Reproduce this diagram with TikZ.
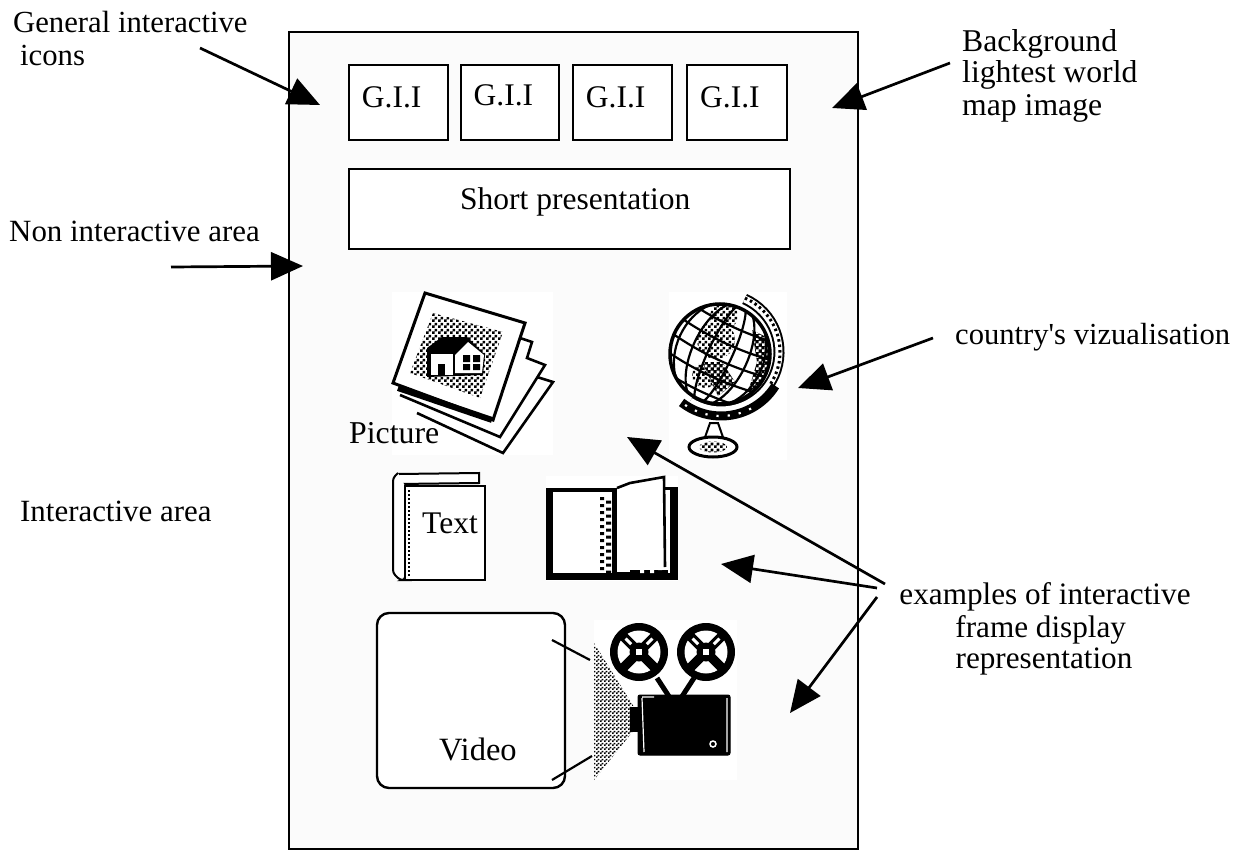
\documentclass[tikz,border=0pt]{standalone}
\usepackage{fontspec}
\setmainfont{Liberation Serif}
\newfontfamily\plainserif{Liberation Serif}
\usetikzlibrary{arrows.meta,patterns,calc}
\pgfdeclarepatternformonly{chk}{\pgfpointorigin}{\pgfqpoint{6pt}{6pt}}{\pgfqpoint{6pt}{6pt}}{%
 \pgfpathrectangle{\pgfpointorigin}{\pgfqpoint{3pt}{3pt}}%
 \pgfpathrectangle{\pgfqpoint{3pt}{3pt}}{\pgfqpoint{3pt}{3pt}}\pgfusepath{fill}}
\pgfdeclarepatternformonly{chkfine}{\pgfpointorigin}{\pgfqpoint{4pt}{4pt}}{\pgfqpoint{4pt}{4pt}}{%
 \pgfpathrectangle{\pgfpointorigin}{\pgfqpoint{2pt}{2pt}}%
 \pgfpathrectangle{\pgfqpoint{2pt}{2pt}}{\pgfqpoint{2pt}{2pt}}\pgfusepath{fill}}
\definecolor{panelgray}{HTML}{FBFBFB}
\tikzset{
 lbl/.style={anchor=base west,inner sep=0pt,font=\fontsize{#1}{36}\selectfont},
 lbl/.default=31.5,
 lblc/.style={anchor=base,inner sep=0pt,font=\fontsize{31.2}{36}\selectfont},
 box/.style={draw=black,line width=2.4pt,fill=white,anchor=north west,inner sep=0pt},
 ptr/.style={draw=black,line width=2.7pt,-{Triangle[length=32pt,width=28pt]},shorten >=0pt},
 ink/.style={draw=black,line width=3pt,line join=miter},
 thin ink/.style={draw=black,line width=2pt}
}
\newcommand{\reel}[2]{%
 \fill[black] (#1,#2) circle[radius=29];
 \fill[white] (#1,#2) circle[radius=21.5];
 \foreach \a in {45,135,225,315}{
  \draw[black,line width=9.5pt] (#1,#2) -- ++(\a:-24);
  \draw[white,line width=3pt] ($(#1,#2)+(\a:11)$) -- ($(#1,#2)+(\a:19)$);
 }
 \fill[black] (#1,#2) circle[radius=9.5];
 \fill[white] (#1-3,#2-3) rectangle (#1+3,#2+3);
}
\begin{document}
\begin{tikzpicture}[x=1pt,y=-1pt]
\useasboundingbox (0,0) rectangle (1249,850);
\fill[white] (0,0) rectangle (1249,850);
\draw[draw=black,line width=2.6pt,fill=panelgray] (289,32) rectangle (858,849);

% G.I.I boxes
\node[box,minimum width=99pt,minimum height=75pt] (g1) at (348,64) {};
\node[box,minimum width=98pt,minimum height=75pt] (g2) at (460,64) {};
\node[box,minimum width=99pt,minimum height=75pt] (g3) at (572,64) {};
\node[box,minimum width=100pt,minimum height=75pt] (g4) at (686,64) {};
\node[lbl] (tg1) at (361.7,108) {G.I.I};
\node[lbl] (tg2) at (473.5,106) {G.I.I};
\node[lbl] (tg3) at (585.7,108) {G.I.I};
\node[lbl] (tg4) at (700,108) {G.I.I};
\node[box,minimum width=441pt,minimum height=80pt] (sp) at (348,168) {};
\node[lbl] (tsp) at (460,210) {Short presentation};

% Picture icon
\fill[white] (392,292) rectangle (553,455);
\draw[ink,fill=white,line width=2.6pt] (537,377) -- (553,382) -- (503,453) -- (417,413);
\draw[ink,fill=white,line width=2.6pt] (520,338) -- (532,342) -- (527,358) -- (545,365) -- (500,437) -- (400,395);
\draw[ink,fill=white] (425,293) -- (525,323) -- (493,420) -- (393,383) -- cycle;
\draw[black,line width=6pt] (398,388) -- (492,420);
\fill[pattern=chk,pattern color=black] (433,313) -- (503,332) -- (480,398) -- (410,373) -- cycle;
\fill[black] (427,348) -- (442,337) -- (467,337) -- (485,355) -- (483,375) -- (427,377) -- cycle;
\fill[white] (431,354) rectangle (453,375);
\fill[black] (438,364) rectangle (445,375);
\fill[white] (455,355) -- (468,342) -- (484,355) -- (482,373) -- (455,373) -- cycle;
\fill[black] (463,355) rectangle (470,362) (473,355) rectangle (480,362) (463,364) rectangle (470,370) (473,364) rectangle (480,370);
\node[lbl=31.8] (tpic) at (349,443) {Picture};

% Globe icon
\fill[white] (669,292) rectangle (787,460);
\begin{scope}
 \fill[white] (720,354) circle[radius=50];
 \clip (720,354) circle[radius=50];
 \fill[pattern=chk,pattern color=black] (716,340) circle[radius=19] (705,375) circle[radius=13] (721,381) circle[radius=11] (724,316) circle[radius=14];
 \fill[black] (752,330) -- (772,340) -- (772,380) -- (748,392) -- (757,362) -- cycle;
 \fill[pattern=chk,pattern color=white] (752,330) -- (772,340) -- (772,380) -- (748,392) -- (757,362) -- cycle;
 \fill[black] (722,362) -- (735,382) -- (718,396) -- (702,362) -- cycle;
 \fill[pattern=chk,pattern color=white] (722,362) -- (735,382) -- (718,396) -- (702,362) -- cycle;
 \begin{scope}[rotate around={-25:(720,354)}]
  \foreach \rx in {12,28,44}{\draw[black,line width=2.2pt] (720,354) ellipse[x radius=\rx,y radius=55];}
  \foreach \dy in {-36,-18,0,18,36}{\draw[black,line width=2.2pt] (660,354+\dy) .. controls (700,354+\dy+8) and (740,354+\dy+8) .. (780,354+\dy);}
 \end{scope}
\end{scope}
\draw[black,line width=3.5pt] (720,354) circle[radius=50];
% ring
\draw[black,line width=11pt] (721,352) ++(-66:58) arc[start angle=-66,end angle=122,radius=58];
\draw[white,line width=7pt] (721,352) ++(-66:58) arc[start angle=-66,end angle=122,radius=58];
\draw[black,line width=3pt,dash pattern=on 2.5pt off 3pt] (721,352) ++(-66:59) arc[start angle=-66,end angle=35,radius=59];
% dark crescent under the ring
\draw[black,line width=9pt] (721,352) ++(32:64) arc[start angle=32,end angle=128,radius=64];
\draw[white,line width=2.2pt,dash pattern=on 2.2pt off 9pt] (721,352) ++(62:64) arc[start angle=62,end angle=128,radius=64];
% stand
\draw[thin ink,fill=white] (710,423) -- (718,423) -- (725,443) -- (703,443) -- cycle;
\draw[black,line width=3pt,fill=white] (713,447) ellipse[x radius=24,y radius=10];
\fill[pattern=chk,pattern color=black] (713,447) ellipse[x radius=14,y radius=5.5];

% Closed book icon
\draw[thin ink,fill=white] (398,484) -- (398,474) -- (479,473) -- (479,483) -- cycle;
\draw[thin ink,fill=white,rounded corners=3pt] (398,473) -- (393,478) -- (393,573) -- (400,580) -- (405,580) -- (405,486);
\draw[black,line width=2.6pt,fill=white] (405,486) rectangle (485,580);
\draw[black,line width=2pt,dash pattern=on 2pt off 2pt] (409,490) -- (409,577);
\node[lbl=31.5] (ttext) at (422,533) {Text};

% Open book icon
\fill[white] (546,476) rectangle (678,581);
\fill[black] (546,488) rectangle (553,580);
\fill[black] (546,488) rectangle (613,491.5);
\fill[black] (546,573) rectangle (678,580);
\fill[black] (612,488) rectangle (617,574);
\draw[black,line width=2.6pt,fill=white] (617,488) -- (630,483) -- (647,480) -- (664,477) -- (665,567);
\fill[black] (670,490) rectangle (678,574);
\fill[black] (664,487) rectangle (678,490);
\fill[black] (630,570) rectangle (668,574);
\fill[black] (617,572) rectangle (640,574);
\foreach \yy in {497,504,...,570}{\fill[black] (600,\yy) rectangle (604,\yy+3) (606,\yy+3.5) rectangle (611,\yy+6.5);}
\fill[white] (640,570) rectangle (644,573) (650,570) rectangle (654,573) (658,567) rectangle (662,570);

% Video frame
\draw[draw=black,line width=2.4pt,fill=white,rounded corners=12pt] (377,613) rectangle (565,788);
\node[lbl=32.5] (tvid) at (439,760) {Video};

% Projector icon
\fill[white] (594,620) rectangle (737,780);
\fill[pattern=chkfine,pattern color=black] (594,643) -- (634,707) -- (634,730) -- (594,780) -- cycle;
\reel{639}{652}
\reel{706}{652}
\draw[black,line width=5pt] (657,678) -- (670,698);
\draw[black,line width=5pt] (694,678) -- (681,698);
\fill[black] (630,707) rectangle (640,732);
\draw[black,fill=black,line width=1pt,rounded corners=2pt] (638,695) rectangle (730,755);
\draw[white,line width=1.2pt] (642,698) -- (644,752) (727,698) -- (727,752) (642,697) -- (654,697);
\draw[white,line width=1.5pt] (713,744) circle[radius=3];

\coordinate (va) at (552,640);
\coordinate (vb) at (590,660);
\coordinate (vc) at (552,780);
\coordinate (vd) at (592,756);
\draw[black,line width=2.2pt] (va) -- (vb);
\draw[black,line width=2.2pt] (vc) -- (vd);

% Labels
\node[lbl=30.7] (lgen) at (13,33) {General interactive};
\node[lbl=30.7] (licons) at (20,65.7) {icons};
\node[lbl=31.7] (lbg1) at (962,51.7) {Background};
\node[lbl=31.7] (lbg2) at (962,83) {lightest world};
\node[lbl=31.7] (lbg3) at (962,116) {map image};
\node[lbl=30.9] (lnon) at (9,241.7) {Non interactive area};
\node[lbl=30.9] (lint) at (20,521) {Interactive area};
\node[lbl=30.6] (lcty) at (955,344) {\plainserif country's vizualisation};
\node[lblc] (lex1) at (1045,604) {examples of interactive};
\node[lblc] (lex2) at (1040.7,637.3) {frame display};
\node[lblc] (lex3) at (1044,668) {representation};

% Arrows
\coordinate (s1) at (200,48);   \coordinate (e1) at (320,105);
\coordinate (s2) at (950,63);   \coordinate (e2) at (832,108);
\coordinate (s3) at (171,267);  \coordinate (e3) at (303,266);
\coordinate (s4) at (933,338);  \coordinate (e4) at (798,388);
\coordinate (s5) at (885,584);  \coordinate (e5) at (627,437);
\coordinate (s6) at (877,588);  \coordinate (e6) at (721,564);
\coordinate (s7) at (877,597);  \coordinate (e7) at (790,713);
\draw[ptr] (s1) -- (e1);
\draw[ptr] (s2) -- (e2);
\draw[ptr] (s3) -- (e3);
\draw[ptr] (s4) -- (e4);
\draw[ptr] (s5) -- (e5);
\draw[ptr] (s6) -- (e6);
\draw[ptr] (s7) -- (e7);
\end{tikzpicture}
\end{document}
